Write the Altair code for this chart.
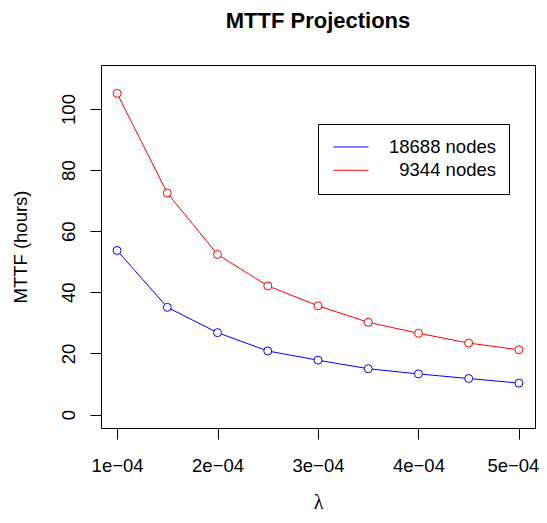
import altair as alt
import pandas as pd

# data
lam = [1.0e-4, 1.5e-4, 2.0e-4, 2.5e-4, 3.0e-4, 3.5e-4, 4.0e-4, 4.5e-4, 5.0e-4]
mttf_18688 = [53.7, 35.1, 26.8, 20.8, 17.8, 15.0, 13.3, 11.8, 10.3]
mttf_9344 = [105.1, 72.5, 52.4, 42.1, 35.6, 30.2, 26.6, 23.4, 21.2]
series = ["18688 nodes", "9344 nodes"]
colors = ["#0000FF", "#FF0000"]
x_ticks = [1e-4, 2e-4, 3e-4, 4e-4, 5e-4]
y_ticks = [0, 20, 40, 60, 80, 100]

rows = []
for name, vals in zip(series, [mttf_18688, mttf_9344]):
    for l, v in zip(lam, vals):
        rows.append({"lam": l, "mttf": v, "series": name})
df = pd.DataFrame(rows)

W, H = 434, 363
FONT = "Liberation Sans"

x = alt.X(
    "lam:Q",
    scale=alt.Scale(domain=[0.84e-4, 5.16e-4], nice=False, zero=False),
    axis=alt.Axis(
        values=x_ticks,
        labelExpr="format(datum.value * 1e4, '.0f') + 'e\u221204'",
        labelOffset={"condition": {"test": "datum.value > 0.00045", "value": -6}, "value": 0},
        title="λ",
        titleFont="Liberation Serif",
        titleFontSize=20,
        titleFontWeight="normal",
        titleColor="black",
        titleX=W / 2,
        titleY=80.5,
        titleBaseline="alphabetic",
        titleAlign="center",
        labelBaseline="alphabetic",
        labelPadding=32,
        labelFlush=False,
        labelOverlap=False,
        grid=False,
    ),
)
y = alt.Y(
    "mttf:Q",
    scale=alt.Scale(domain=[-4.4, 114.4], nice=False, zero=False),
    axis=alt.Axis(
        values=y_ticks,
        title="MTTF (hours)",
        titleFont=FONT,
        titleFontSize=18.5,
        titleFontWeight="normal",
        titleColor="black",
        titleAngle=270,
        titleX=-74.8,
        titleY=H / 2,
        titleBaseline="alphabetic",
        titleAlign="center",
        labelAngle=270,
        labelAlign="center",
        labelBaseline="alphabetic",
        labelPadding=16,
        labelFlush=False,
        labelOverlap=False,
        grid=False,
    ),
)
color = alt.Color(
    "series:N",
    scale=alt.Scale(domain=series, range=colors),
    legend=alt.Legend(
        orient="none",
        legendX=217,
        legendY=59,
        title=None,
        strokeColor="black",
        fillColor="white",
        padding=13,
        cornerRadius=0,
        symbolType="stroke",
        symbolSize=1225,
        symbolStrokeWidth=1,
        symbolOffset=2,
        clipHeight=20,
        labelFont=FONT,
        labelFontSize=18.5,
        labelColor="black",
        labelOffset=127,
        labelAlign="right",
        rowPadding=3.3,
    ),
)

base = alt.Chart(df).encode(x=x, y=y, color=color)
lines = base.mark_line(strokeWidth=1)
points = base.mark_point(shape="circle", filled=False, fill="white", fillOpacity=1, size=64, strokeWidth=1, opacity=1)

chart = (
    alt.layer(lines, points)
    .properties(
        width=W,
        height=H,
        autosize=alt.AutoSizeParams(type="none"),
        padding={"left": 93, "top": 57, "right": 4, "bottom": 85},
        title=alt.TitleParams(
            "MTTF Projections",
            font=FONT,
            fontSize=22,
            fontWeight="bold",
            color="black",
            anchor="middle",
            baseline="alphabetic",
            offset=15,
        ),
    )
    .configure_view(stroke="black", strokeWidth=1)
    .configure_axis(
        domain=False,
        tickColor="black",
        tickSize=11,
        tickWidth=1,
        labelFont=FONT,
        labelFontSize=18.5,
        labelColor="black",
    )
)

chart.save("out.html", embed_options={"renderer": "svg", "actions": False})
